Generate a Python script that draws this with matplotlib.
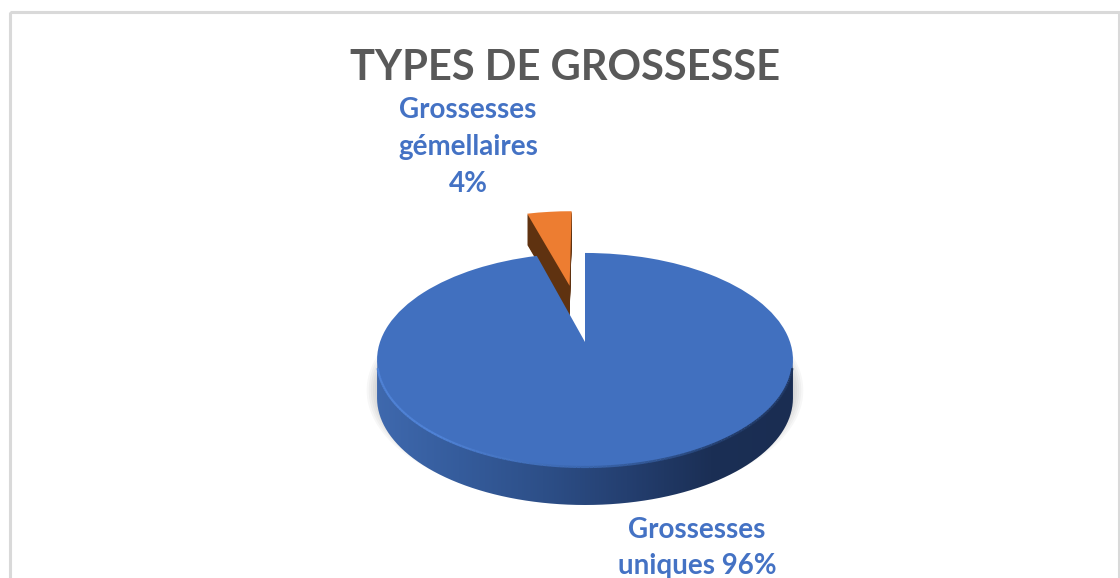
import numpy as np
import matplotlib
matplotlib.use('Agg')
import matplotlib.pyplot as plt
from matplotlib.collections import LineCollection
from matplotlib.colors import LinearSegmentedColormap
from matplotlib.patches import Polygon, Rectangle
from matplotlib.path import Path
from matplotlib.transforms import Affine2D, Transform

# donnees
categories = ['Grossesses uniques', 'Grossesses gémellaires']
valeurs = [95.6, 4.4]
explosion = [0, 0.6]
titre = 'TYPES DE GROSSESSE'
label_uniques = 'Grossesses\nuniques 96%'
label_gemellaires = 'Grossesses\ngémellaires\n4%'

# geometrie du faux 3D (en pixels de l'image)
CX, CY = 585, 342
SX, SY, K = 205, 104, 0.168
EPAISSEUR = 38
EPAISSEUR_ORANGE = 31


class Perspective(Transform):
    input_dims = 2
    output_dims = 2

    def transform_non_affine(self, xy):
        xy = np.asarray(xy, dtype=float)
        w = 1 + K * xy[:, 1]
        return np.column_stack([SX * xy[:, 0] / w, -SY * xy[:, 1] / w])


def projete(x, y, decalage=0):
    pts = Perspective().transform_non_affine(np.column_stack([x, y]))
    return pts + [CX, CY + decalage]


fig = plt.figure(figsize=(11.2, 5.78), dpi=100)
ax = fig.add_axes([0, 0, 1, 1])
ax.set_autoscale_on(False)
ax.set_xlim(0, 1120)
ax.set_ylim(578, 0)


def dessine_pie(couleurs, decalage, z):
    wedges, _ = ax.pie(valeurs, explode=explosion, colors=couleurs, startangle=90,
                       counterclock=False, frame=True, normalize=True)
    tr = Perspective() + Affine2D().translate(CX, CY + decalage) + ax.transData
    for w in wedges:
        w.set_transform(tr)
        w.set_zorder(z)
        w.set_linewidth(0)
    return wedges


# cadre
ax.add_patch(Rectangle((9.5, 11.5), 1109, 580, fill=False, ec='#d9d9d9', lw=2.2, zorder=1))

# ombre douce sous le camembert
th = np.linspace(0, 2 * np.pi, 361)
contour = projete(np.cos(th), np.sin(th), EPAISSEUR - 8)
centre = contour.mean(axis=0)
zone = Rectangle((300, 350), 560, 135, transform=ax.transData)
for f in [1.05, 1.04, 1.03, 1.02, 1.01]:
    p = Polygon(centre + (contour - centre) * f, fc='#000000', ec='none', alpha=0.03, zorder=2)
    ax.add_patch(p)
    p.set_clip_path(zone)

# paroi laterale avec degrade
t = np.linspace(np.pi, 2 * np.pi, 181)
bas = projete(np.cos(t), np.sin(t), EPAISSEUR)
haut = projete(np.cos(t), np.sin(t))
gauche = haut[:, 0].argmin()
droite = haut[:, 0].argmax()
pts_bas = bas[gauche:droite + 1]
pts_haut = haut[gauche:droite + 1]
paroi = Path(np.vstack([pts_bas, pts_haut[::-1], pts_bas[:1]]))
degrade = LinearSegmentedColormap.from_list(
    'paroi', ['#3f69ae', '#355c9c', '#2d4f88', '#243f70', '#1b2f55', '#1a2d52'])
im = ax.imshow(np.linspace(0, 1, 256).reshape(1, -1), cmap=degrade, aspect='auto',
               extent=(375, 795, 510, 350), zorder=3)
im.set_clip_path(paroi, transform=ax.transData)

# part orange : tranche sombre puis dessus
for d in range(1, EPAISSEUR_ORANGE + 1):
    dessine_pie(['none', '#5f3210'], d, 4)
dessine_pie(['none', '#ed7d31'], 0, 5)

# part bleue
dessine_pie(['#4170bf', 'none'], 0, 6)

# biseau sur le bord du dessus
segs = np.stack([pts_haut[4:-5], pts_haut[5:-4]], axis=1)
biseau = LinearSegmentedColormap.from_list('biseau', ['#4f82d6', '#4f82d6', '#3a66ae', '#223c6a', '#1f355e'])
ax.add_collection(LineCollection(segs, array=np.linspace(0, 1, len(segs)), cmap=biseau,
                                 linewidths=1.6, zorder=7))

# textes
ax.text(565, 68, titre, ha='center', va='center', fontsize=30, fontweight='bold',
        family='Lato', color='#595959', zorder=8)
ax.text(468, 147, label_gemellaires, ha='center', va='center', fontsize=20, fontweight='bold',
        family='Lato', color='#4472c4', linespacing=1.5, zorder=8)
ax.text(697, 548, label_uniques, ha='center', va='center', fontsize=20, fontweight='bold',
        family='Lato', color='#4472c4', linespacing=1.5, zorder=8)

ax.set_xlim(0, 1120)
ax.set_ylim(578, 0)
ax.axis('off')
fig.savefig('out.png', dpi=100, facecolor='white')
